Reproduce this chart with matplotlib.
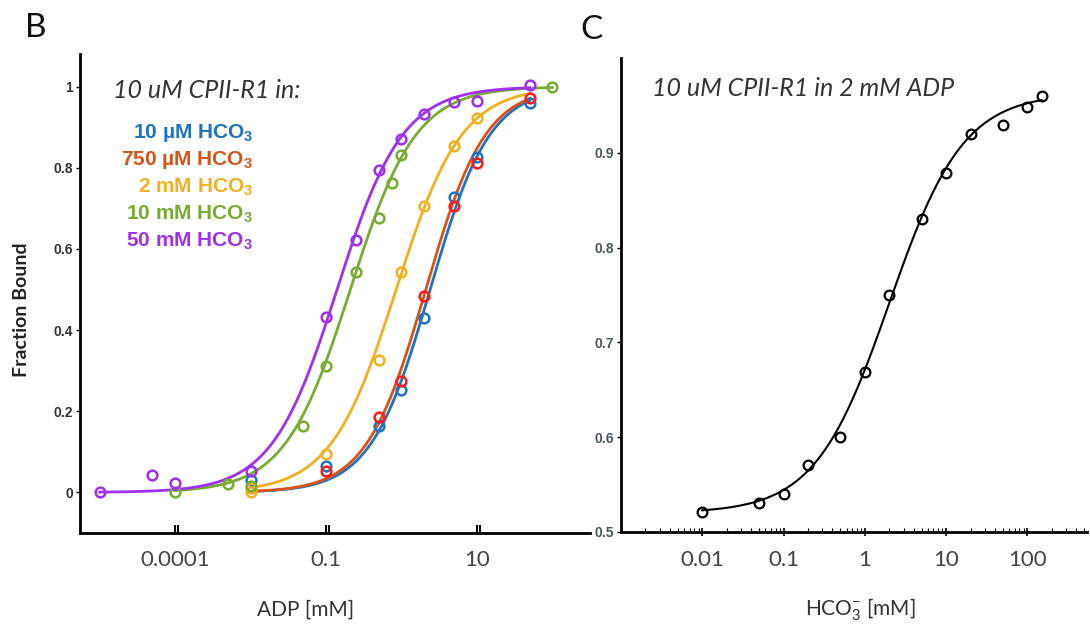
import numpy as np
import matplotlib
matplotlib.use("Agg")
import matplotlib.pyplot as plt
from matplotlib.ticker import FixedLocator, LogLocator, NullFormatter

plt.rcParams['mathtext.default'] = 'regular'

# ---- panel B data: ADP titration at several HCO3 levels ----
series_names = ["10 µM HCO$_3$", "750 µM HCO$_3$", "2 mM HCO$_3$",
                "10 mM HCO$_3$", "50 mM HCO$_3$"]

blue_x = [0.01, 0.1, 0.5, 1, 2, 5, 10, 50]
blue_y = [0.03, 0.064, 0.163, 0.252, 0.431, 0.727, 0.826, 0.96]

red_x = [0.1, 0.5, 1, 2, 5, 10, 50]
red_y = [0.053, 0.186, 0.275, 0.484, 0.706, 0.811, 0.972]

orange_x = [0.01, 0.01, 0.1, 0.5, 1, 2, 5, 10]
orange_y = [0.0, 0.012, 0.094, 0.326, 0.544, 0.705, 0.854, 0.922]

green_x = [0.001, 0.005, 0.01, 0.05, 0.1, 0.25, 0.5, 0.75, 1, 100]
green_y = [0.0, 0.021, 0.015, 0.163, 0.311, 0.544, 0.676, 0.762, 0.832, 1.0]

purple_x = [0.0001, 0.0005, 0.001, 0.01, 0.1, 0.25, 0.5, 1, 2, 5, 10, 50]
purple_y = [0.0, 0.042, 0.023, 0.053, 0.433, 0.622, 0.795, 0.872, 0.933, 0.962, 0.964, 1.005]

# fitted Hill curves (K, n, top, x start, x end)
fit_K = [2.4, 2.1, 0.85, 0.21, 0.14]
fit_n = [1.1, 1.1, 1.0, 1.0, 1.0]
fit_top = [1.0, 1.0, 1.0, 1.0, 1.0]
fit_start = [0.01, 0.01, 0.01, 0.001, 0.0001]
fit_end = [50, 50, 50, 100, 50]

adp_ticks = [0.001, 0.1, 10]
adp_ticklabels = ["0.0001", "0.1", "10"]

# ---- panel C data: HCO3 titration in 2 mM ADP ----
hco3_x = [0.01, 0.05, 0.1, 0.2, 0.5, 1, 2, 5, 10, 20, 50, 100, 150]
hco3_y = [0.521, 0.531, 0.540, 0.571, 0.600, 0.669, 0.750, 0.830, 0.879, 0.920, 0.930, 0.949, 0.960]
c_bottom, c_top, c_K, c_n = 0.52, 0.963, 2.0, 0.95

line_colors = ['#1f74c2', '#d95319', '#f0b020', '#77ac30', '#a030f0']
marker_colors = ['#1f74c2', '#ff1a1a', '#f0b020', '#77ac30', '#a030f0']
text_colors = ['#1f74c2', '#d95319', '#f0b020', '#77ac30', '#a030f0']


def hill(x, K, n, top, bottom=0.0):
    return bottom + (top - bottom) * x**n / (K**n + x**n)


fig = plt.figure(figsize=(10.9, 6.3), dpi=100)

# ---------------- panel B ----------------
ax1 = fig.add_axes([0.0734, 0.154, 0.468, 0.760])
xs_list = [blue_x, red_x, orange_x, green_x, purple_x]
ys_list = [blue_y, red_y, orange_y, green_y, purple_y]
for i in range(5):
    xx = np.logspace(np.log10(fit_start[i]), np.log10(fit_end[i]), 300)
    ax1.plot(xx, hill(xx, fit_K[i], fit_n[i], fit_top[i]), color=line_colors[i], lw=2, zorder=2)
for i in range(5):
    ax1.plot(xs_list[i], ys_list[i], 'o', mfc='none', mec=marker_colors[i], ms=7, mew=1.8, zorder=3)

ax1.set_xscale('log')
ax1.set_xlim(10**-4.26, 10**2.5)
ax1.set_ylim(-0.1, 1.08)
ax1.xaxis.set_major_locator(FixedLocator(adp_ticks))
ax1.set_xticklabels(adp_ticklabels)
ax1.xaxis.set_minor_locator(FixedLocator([t * 1.09 for t in adp_ticks]))
ax1.xaxis.set_minor_formatter(NullFormatter())
ax1.tick_params(axis='x', which='both', direction='in', length=6, width=1.5, pad=12,
                labelsize=16, labelcolor='#444444')
ax1.set_yticks([0, 0.2, 0.4, 0.6, 0.8, 1.0])
ax1.set_yticklabels(['0', '0.2', '0.4', '0.6', '0.8', '1'])
ax1.tick_params(axis='y', direction='out', length=3, width=1, pad=2, labelsize=10, labelcolor='#333333')
for lab in ax1.get_yticklabels():
    lab.set_fontweight('bold')
    lab.set_family('Liberation Sans')
for lab in ax1.get_xticklabels():
    lab.set_family('Lato')
for s in ['top', 'right']:
    ax1.spines[s].set_visible(False)
for s in ['left', 'bottom']:
    ax1.spines[s].set_linewidth(2)

ax1.text(0.065, 0.925, "10 uM CPII-R1 in:", transform=ax1.transAxes, fontsize=18,
         style='italic', family='Lato', color='#333333', va='center')
for i in range(5):
    ax1.text(0.339, 0.835 - i * 0.0564, series_names[i], transform=ax1.transAxes,
             fontsize=15, fontweight='bold', family='Liberation Sans',
             color=text_colors[i], ha='right', va='center')

fig.text(22 / 1090, 1 - 310 / 630, "Fraction Bound", rotation=90, fontsize=14, family='Lato',
         fontweight='bold', color='#222222', ha='center', va='center')
fig.text(306 / 1090, 1 - 610 / 630, "ADP [mM]", fontsize=15, family='Lato',
         color='#333333', ha='center', va='center')

# ---------------- panel C ----------------
ax2 = fig.add_axes([0.5697, 0.1556, 0.428, 0.752])
xx = np.logspace(np.log10(hco3_x[0]), np.log10(hco3_x[-1]), 300)
ax2.plot(xx, hill(xx, c_K, c_n, c_top, c_bottom), color='black', lw=1.5, zorder=2)
ax2.plot(hco3_x, hco3_y, 'o', mfc='none', mec='black', ms=7, mew=1.6, zorder=3)
ax2.set_xscale('log')
ax2.set_xlim(1e-3, 10**2.74)
ax2.set_ylim(0.5, 1.0)
ax2.xaxis.set_major_locator(FixedLocator([0.01, 0.1, 1, 10, 100]))
ax2.set_xticklabels(["0.01", "0.1", "1", "10", "100"])
ax2.xaxis.set_minor_locator(LogLocator(base=10, subs=np.arange(2, 10)))
ax2.xaxis.set_minor_formatter(NullFormatter())
ax2.tick_params(axis='x', which='major', direction='inout', length=6, width=1.2, pad=10,
                labelsize=16, labelcolor='#444444')
ax2.tick_params(axis='x', which='minor', direction='in', length=3, width=0.8)
ax2.set_yticks([0.5, 0.6, 0.7, 0.8, 0.9])
ax2.set_yticklabels(['0.5', '0.6', '0.7', '0.8', '0.9'])
ax2.tick_params(axis='y', direction='out', length=3, width=1, pad=2, labelsize=10, labelcolor='#4a5560')
for lab in ax2.get_yticklabels():
    lab.set_fontweight('bold')
    lab.set_family('Liberation Sans')
for lab in ax2.get_xticklabels():
    lab.set_family('Lato')
for s in ['top', 'right']:
    ax2.spines[s].set_visible(False)
for s in ['left', 'bottom']:
    ax2.spines[s].set_linewidth(2)

ax2.text(0.066, 0.937, "10 uM CPII-R1 in 2 mM ADP", transform=ax2.transAxes, fontsize=18,
         style='italic', family='Lato', color='#333333', va='center')
fig.text(860 / 1090, 1 - 610 / 630, "HCO$_3^{-}$ [mM]", fontsize=15, family='Lato',
         color='#333333', ha='center', va='center')

fig.text(0.023, 0.955, "B", fontsize=24, family='Lato', color='#111111', va='center')
fig.text(0.532, 0.952, "C", fontsize=24, family='Lato', color='#111111', va='center')

fig.savefig("out.png", dpi=100)
